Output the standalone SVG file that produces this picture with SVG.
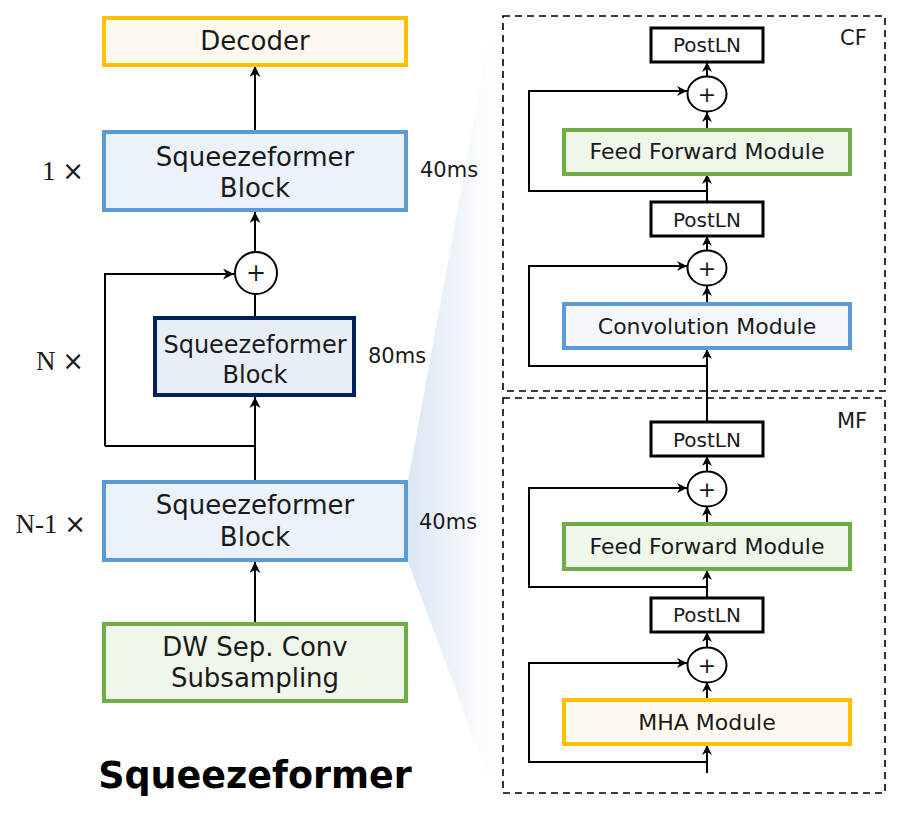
<svg xmlns="http://www.w3.org/2000/svg" width="917" height="817" viewBox="0 0 917 817">
<defs>
<linearGradient id="wedge" x1="408" y1="0" x2="493" y2="0" gradientUnits="userSpaceOnUse">
<stop offset="0" stop-color="#dbe7f5"/>
<stop offset="1" stop-color="#ffffff"/>
</linearGradient>
<marker id="arr" viewBox="0 0 10 10" refX="10" refY="5" markerWidth="11" markerHeight="11" markerUnits="userSpaceOnUse" orient="auto">
<path d="M0,0 L10,5 L0,10 L3,5 Z" fill="#000"/>
</marker>
<marker id="arrs" viewBox="0 0 10 10" refX="10" refY="5" markerWidth="10" markerHeight="10" markerUnits="userSpaceOnUse" orient="auto">
<path d="M0,0 L10,5 L0,10 L3,5 Z" fill="#000"/>
</marker>
</defs>
<style>
text{font-family:"DejaVu Sans","Noto Sans",sans-serif;fill:#1a1a1a;text-anchor:middle}
.big{font-size:26px}
.mid{font-size:24px}
.ms{font-size:21px;text-anchor:start}
.mult{font-family:"Liberation Serif","DejaVu Serif",serif;font-size:27px;text-anchor:end}
.x{font-family:"DejaVu Sans",sans-serif;font-size:26px}
.mod{font-size:22px}
.ln{font-size:20px}
.pl{font-size:22px}
.tag{font-size:21px;text-anchor:start}
.title{font-size:36.5px;font-weight:bold;fill:#000}
.yel{fill:#fffaf0;stroke:#ffc000;stroke-width:4}
.blu{fill:#ebf2fa;stroke:#5b9bd5;stroke-width:4}
.navy{fill:#e8eef8;stroke:#002060;stroke-width:4}
.grn{fill:#eff6ea;stroke:#70ad47;stroke-width:4}
.pln{fill:#fff;stroke:#000;stroke-width:3}
.circ{fill:#fff;stroke:#000;stroke-width:2}
.dash{fill:none;stroke:#000;stroke-width:1.6;stroke-dasharray:7 5}
.c{fill:none;stroke:#000;stroke-width:2}
</style>
<rect width="917" height="817" fill="#fff"/>
<polygon points="408,481 493,15 493,790 408,562" fill="url(#wedge)"/>

<g id="cf-frame"><rect class="dash" x="503" y="16" width="382" height="375"/><text class="tag" x="840" y="45">CF</text></g>
<g id="mf-frame"><rect class="dash" x="503" y="398" width="382" height="395"/><text class="tag" x="837" y="428">MF</text></g>

<g id="connectors">
<path class="c" d="M255,130 V66" marker-end="url(#arr)"/>
<path class="c" d="M255,252 V212" marker-end="url(#arr)"/>
<path class="c" d="M255,316 V294"/>
<path class="c" d="M105,446 V274 H234" marker-end="url(#arr)"/>
<path class="c" d="M255,480 V397" marker-end="url(#arr)"/>
<path class="c" d="M105,446 H255"/>
<path class="c" d="M255,622 V562" marker-end="url(#arr)"/>

<path class="c" d="M707,77 V62" marker-end="url(#arrs)"/>
<path class="c" d="M707,129 V112" marker-end="url(#arrs)"/>
<path class="c" d="M707,202 V174" marker-end="url(#arrs)"/>
<path class="c" d="M707,191 H529 V91 H687" marker-end="url(#arrs)"/>
<path class="c" d="M707,251 V236" marker-end="url(#arrs)"/>
<path class="c" d="M707,303 V286" marker-end="url(#arrs)"/>
<path class="c" d="M707,422 V349" marker-end="url(#arrs)"/>
<path class="c" d="M707,366 H529 V266 H687" marker-end="url(#arrs)"/>

<path class="c" d="M707,472 V456" marker-end="url(#arrs)"/>
<path class="c" d="M707,523 V506" marker-end="url(#arrs)"/>
<path class="c" d="M707,598 V570" marker-end="url(#arrs)"/>
<path class="c" d="M707,587 H529 V488 H687" marker-end="url(#arrs)"/>
<path class="c" d="M707,648 V632" marker-end="url(#arrs)"/>
<path class="c" d="M707,699 V682" marker-end="url(#arrs)"/>
<path class="c" d="M707,773 V745" marker-end="url(#arrs)"/>
<path class="c" d="M707,762 H529 V663 H687" marker-end="url(#arrs)"/>
</g>

<g id="decoder"><rect class="yel" x="104" y="18" width="302" height="47"/><text class="big" x="255" y="50">Decoder</text></g>
<g id="block-top"><rect class="blu" x="104" y="132" width="302" height="78"/><text class="big" x="255" y="166">Squeezeformer</text><text class="big" x="255" y="197">Block</text></g>
<text class="mult" x="84" y="180">1 <tspan class="x">×</tspan></text>
<text class="ms" x="420" y="177">40ms</text>
<g id="add-left"><circle class="circ" cx="256" cy="273" r="21"/><text class="mid" x="256" y="281">+</text></g>
<g id="block-mid"><rect class="navy" x="155" y="318" width="199" height="77"/><text class="mid" x="255" y="353">Squeezeformer</text><text class="mid" x="255" y="383">Block</text></g>
<text class="mult" x="84" y="370">N <tspan class="x">×</tspan></text>
<text class="ms" x="368" y="363">80ms</text>
<g id="block-low"><rect class="blu" x="104" y="482" width="302" height="78"/><text class="big" x="255" y="514">Squeezeformer</text><text class="big" x="255" y="546">Block</text></g>
<text class="mult" x="86" y="533">N-1 <tspan class="x">×</tspan></text>
<text class="ms" x="419" y="529">40ms</text>
<g id="subsampling"><rect class="grn" x="104" y="624" width="302" height="77"/><text class="big" x="255" y="656">DW Sep. Conv</text><text class="big" x="255" y="687">Subsampling</text></g>
<text class="title" x="255" y="788">Squeezeformer</text>

<g id="cf-postln-top"><rect class="pln" x="651" y="28" width="112" height="34"/><text class="ln" x="707" y="52">PostLN</text></g>
<g id="cf-add-top"><ellipse class="circ" cx="707" cy="94" rx="19.5" ry="17.5"/><text class="pl" x="707" y="101.5">+</text></g>
<g id="cf-ffm"><rect class="grn" x="564" y="130" width="286" height="44"/><text class="mod" x="707" y="159">Feed Forward Module</text></g>
<g id="cf-postln-low"><rect class="pln" x="651" y="202" width="112" height="34"/><text class="ln" x="707" y="227">PostLN</text></g>
<g id="cf-add-low"><ellipse class="circ" cx="707" cy="268" rx="19.5" ry="17.5"/><text class="pl" x="707" y="275.5">+</text></g>
<g id="cf-conv"><rect class="blu" x="564" y="304" width="286" height="44" style="fill:#f3f7fc"/><text class="mod" x="707" y="334">Convolution Module</text></g>

<g id="mf-postln-top"><rect class="pln" x="651" y="422" width="112" height="34"/><text class="ln" x="707" y="447">PostLN</text></g>
<g id="mf-add-top"><ellipse class="circ" cx="707" cy="489" rx="19.5" ry="17.5"/><text class="pl" x="707" y="496.5">+</text></g>
<g id="mf-ffm"><rect class="grn" x="564" y="524" width="286" height="45"/><text class="mod" x="707" y="554">Feed Forward Module</text></g>
<g id="mf-postln-low"><rect class="pln" x="651" y="598" width="112" height="34"/><text class="ln" x="707" y="622">PostLN</text></g>
<g id="mf-add-low"><ellipse class="circ" cx="707" cy="665" rx="19.5" ry="17.5"/><text class="pl" x="707" y="672.5">+</text></g>
<g id="mf-mha"><rect class="yel" x="564" y="700" width="286" height="44"/><text class="mod" x="707" y="730">MHA Module</text></g>
</svg>
